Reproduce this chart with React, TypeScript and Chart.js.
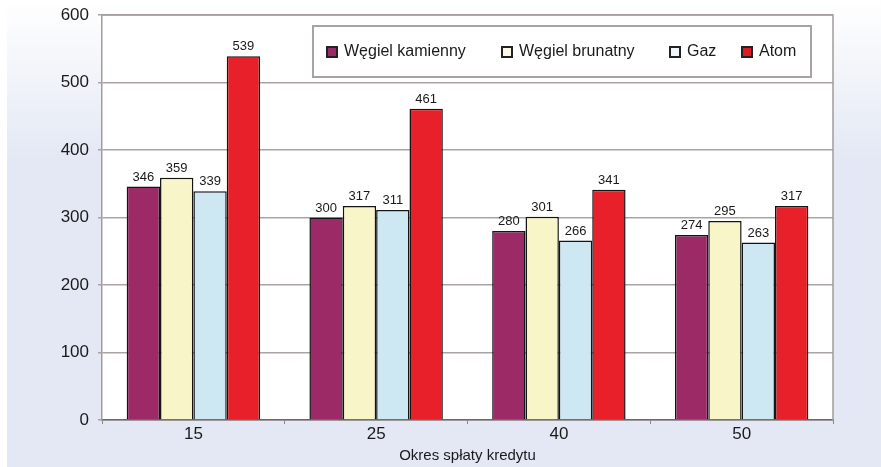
import React, { useEffect, useRef } from "react";
import { Chart, registerables } from "chart.js";
Chart.register(...registerables);

const categories = ["15", "25", "40", "50"];
const seriesNames = ["Węgiel kamienny", "Węgiel brunatny", "Gaz", "Atom"];
const wegielKamienny = [346, 300, 280, 274];
const wegielBrunatny = [359, 317, 301, 295];
const gaz = [339, 311, 266, 263];
const atom = [539, 461, 341, 317];
const yMin = 0;
const yMax = 600;
const yStep = 100;
const xAxisTitle = "Okres spłaty kredytu";

const seriesValues = [wegielKamienny, wegielBrunatny, gaz, atom];
const seriesColors = ["#9b2a66", "#f8f5c8", "#cde8f3", "#e8202a"];
const legendSwatch = ["#9b2a66", "#fbfaea", "#f2f6f8", "#e01a26"];
const FONT = "'Liberation Sans', Arial, sans-serif";

const bgPlugin = {
  id: "bg",
  beforeDraw(chart: any) {
    const { ctx, width, height, chartArea } = chart;
    ctx.save();
    ctx.fillStyle = "#ffffff";
    ctx.fillRect(0, 0, width, height);
    const g = ctx.createLinearGradient(0, 0, 0, 160);
    g.addColorStop(0, "#ffffff");
    g.addColorStop(1, "#e3e8f4");
    ctx.fillStyle = g;
    ctx.fillRect(7, 0, width - 7, height);
    ctx.fillStyle = "#ffffff";
    ctx.fillRect(chartArea.left, chartArea.top, chartArea.right - chartArea.left, chartArea.bottom - chartArea.top);
    ctx.restore();
  },
  afterDraw(chart: any) {
    const { ctx, chartArea } = chart;
    ctx.save();
    ctx.strokeStyle = "#a39c9c";
    ctx.lineWidth = 1.5;
    ctx.beginPath();
    ctx.moveTo(chartArea.left, chartArea.top);
    ctx.lineTo(chartArea.right, chartArea.top);
    ctx.lineTo(chartArea.right, chartArea.bottom);
    ctx.stroke();
    // legend
    const bx = 313, by = 26, bw = 498, bh = 51;
    ctx.fillStyle = "#ffffff";
    ctx.fillRect(bx, by, bw, bh);
    ctx.strokeStyle = "#a8a2a2";
    ctx.lineWidth = 2;
    ctx.strokeRect(bx, by, bw, bh);
    const xs = [327, 502, 670, 742];
    const cy = 52;
    ctx.font = `16px ${FONT}`;
    ctx.textBaseline = "middle";
    ctx.textAlign = "left";
    chart.data.datasets.forEach((ds: any, i: number) => {
      const x = xs[i];
      ctx.fillStyle = legendSwatch[i];
      ctx.fillRect(x, cy - 5, 10, 10);
      ctx.strokeStyle = "#222";
      ctx.lineWidth = 2;
      ctx.strokeRect(x, cy - 5, 10, 10);
      ctx.fillStyle = "#1a1a1a";
      ctx.fillText(ds.label, x + 17, cy);
    });
    ctx.restore();
  },
  afterDatasetsDraw(chart: any) {
    const { ctx } = chart;
    ctx.save();
    ctx.font = `13px ${FONT}`;
    ctx.textAlign = "center";
    ctx.textBaseline = "bottom";
    ctx.fillStyle = "#1a1a1a";
    chart.data.datasets.forEach((ds: any, i: number) => {
      const meta = chart.getDatasetMeta(i);
      meta.data.forEach((el: any, j: number) => {
        ctx.fillText(String(ds.data[j]), el.x, el.y - 3);
      });
    });
    ctx.restore();
  },
};

export default function App() {
  const ref = useRef<HTMLCanvasElement>(null);
  useEffect(() => {
    document.body.style.margin = "0";
    const chart = new Chart(ref.current!, {
      type: "bar",
      data: {
        labels: categories,
        datasets: seriesNames.map((name, i) => ({
          label: name,
          data: seriesValues[i],
          backgroundColor: seriesColors[i],
          borderColor: "#141414",
          borderWidth: 1.5,
          categoryPercentage: 0.73,
          barPercentage: 1,
        })),
      },
      options: {
        animation: false,
        responsive: false,
        maintainAspectRatio: false,
        layout: { padding: { left: 0, top: 15, right: 48, bottom: 0 } },
        plugins: { legend: { display: false }, tooltip: { enabled: false } },
        scales: {
          x: {
            grid: { drawOnChartArea: false, drawTicks: true, tickLength: 4, color: "#8c8686", offset: true },
            border: { color: "#6e6868", width: 1.5 },
            ticks: { color: "#1a1a1a", font: { family: FONT, size: 17 }, padding: 0 },
            title: { display: true, text: xAxisTitle, color: "#1a1a1a", font: { family: FONT, size: 15 }, padding: { top: 2, bottom: 2 } },
            afterFit(scale: any) { scale.height = 47; scale.paddingLeft = 0; scale.paddingRight = 0; },
          },
          y: {
            min: yMin,
            max: yMax,
            ticks: { stepSize: yStep, color: "#1a1a1a", font: { family: FONT, size: 17 }, padding: 9 },
            grid: { color: "#aaa3a3", lineWidth: 1.5, tickLength: 4 },
            border: { color: "#a39c9c", width: 1.5 },
            afterFit(scale: any) { scale.width = 102; scale.paddingTop = 0; scale.paddingBottom = 0; },
          },
        },
      },
      plugins: [bgPlugin],
    });
    return () => chart.destroy();
  }, []);
  return <canvas ref={ref} width={881} height={467} style={{ display: "block" }} />;
}
